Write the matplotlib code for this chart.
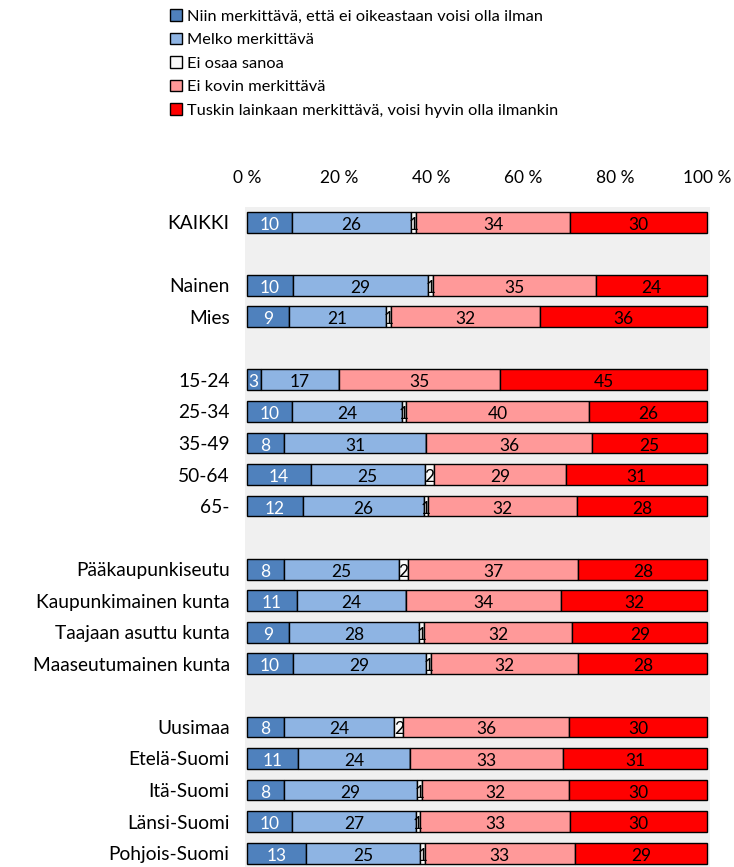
import numpy as np
import matplotlib.pyplot as plt
from matplotlib.patches import Patch

plt.rcParams['font.family'] = ['Lato', 'DejaVu Sans']

# Groups, with None marking an empty spacer row
groups = ["KAIKKI", None, "Nainen", "Mies", None,
          "15-24", "25-34", "35-49", "50-64", "65-", None,
          "Pääkaupunkiseutu", "Kaupunkimainen kunta", "Taajaan asuttu kunta",
          "Maaseutumainen kunta", None,
          "Uusimaa", "Etelä-Suomi", "Itä-Suomi", "Länsi-Suomi", "Pohjois-Suomi"]

series_names = ["Niin merkittävä, että ei oikeastaan voisi olla ilman",
                "Melko merkittävä",
                "Ei osaa sanoa",
                "Ei kovin merkittävä",
                "Tuskin lainkaan merkittävä, voisi hyvin olla ilmankin"]

# Percentages per group (same order as the non-empty groups)
niin = [10, 10, 9, 3, 10, 8, 14, 12, 8, 11, 9, 10, 8, 11, 8, 10, 13]
melko = [26, 29, 21, 17, 24, 31, 25, 26, 25, 24, 28, 29, 24, 24, 29, 27, 25]
eos = [1, 1, 1, 0, 1, 0, 2, 1, 2, 0, 1, 1, 2, 0, 1, 1, 1]
ei_kovin = [34, 35, 32, 35, 40, 36, 29, 32, 37, 34, 32, 32, 36, 33, 32, 33, 33]
tuskin = [30, 24, 36, 45, 26, 25, 31, 28, 28, 32, 29, 28, 30, 31, 30, 30, 29]

colors = ["#4F81BD", "#8EB4E3", "#FAFAFA", "#FF9999", "#FF0000"]
text_colors = ["white", "black", "black", "black", "black"]

data = np.array([niin, melko, eos, ei_kovin, tuskin], dtype=float)
shares = data / data.sum(axis=0) * 100  # 100 % stacked

rows = [i for i, g in enumerate(groups) if g is not None]

fig = plt.figure(figsize=(7.34, 8.67), dpi=100)
ax = fig.add_axes([245 / 734, 0, 465 / 734, 660 / 867])
ax.set_facecolor("#F0F0F0")

left = np.zeros(len(rows))
for k in range(5):
    ax.barh(rows, shares[k], left=left, height=0.66, color=colors[k],
            edgecolor="black", linewidth=1.0)
    for r, l, w, v in zip(rows, left, shares[k], data[k]):
        if v > 0:
            ax.text(l + w / 2, r + 0.08, f"{int(v)}", ha="center", va="center",
                    fontsize=12.5, color=text_colors[k])
    left += shares[k]

ax.set_xlim(-0.4, 100.6)
ax.set_ylim(20.44, -0.48)
ax.set_yticks(rows)
ax.set_yticklabels([groups[i] for i in rows], fontsize=13.8)
ax.xaxis.tick_top()
ax.set_xticks(np.arange(0, 101, 20))
ax.set_xticklabels([f"{t} %" for t in range(0, 101, 20)], fontsize=12.5)
ax.tick_params(length=0, axis="y", pad=11)
ax.tick_params(length=0, axis="x", pad=15)
for s in ax.spines.values():
    s.set_visible(False)

handles = [Patch(facecolor=c, edgecolor="black", linewidth=1.0) for c in colors]
fig.legend(handles, series_names, loc="upper left", bbox_to_anchor=(161 / 734, 1.0),
           frameon=False, fontsize=11.8, handlelength=0.72, handleheight=0.72,
           handletextpad=0.3, labelspacing=0.55, borderaxespad=0.15)

fig.savefig("out.png", dpi=100)
